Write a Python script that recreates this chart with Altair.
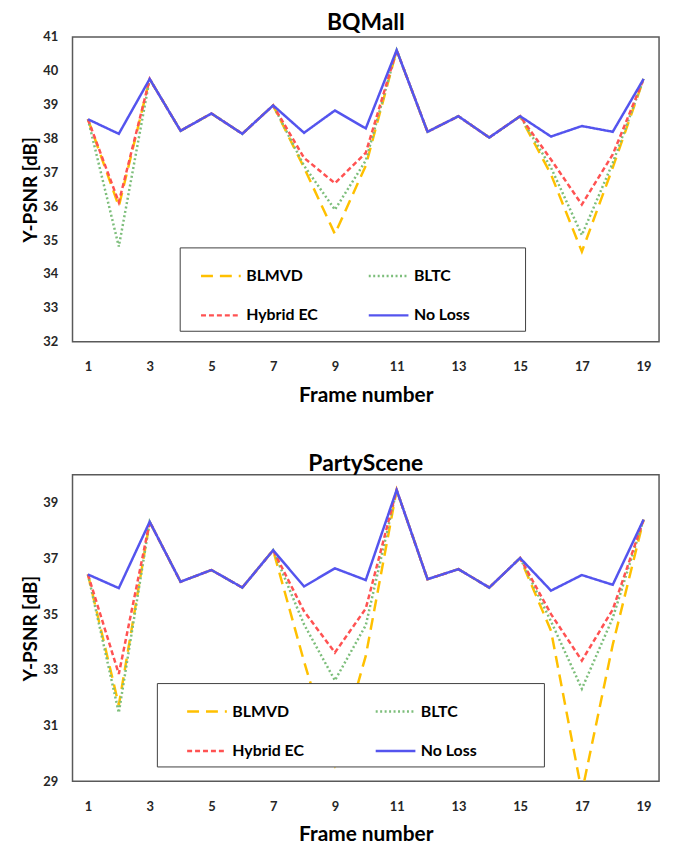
import altair as alt
import pandas as pd

FONT = "Lato"

frames = list(range(1, 20))
series_names = ["BLMVD", "BLTC", "Hybrid EC", "No Loss"]
series_colors = ["#FFC000", "#7DBE7B", "#FF5252", "#5454EE"]
series_dashes = [[12, 7], [2, 2.5], [5, 3], [1, 0]]
x_ticks = [1, 3, 5, 7, 9, 11, 13, 15, 17, 19]

# BQMall
bq_noloss = [38.57, 38.14, 39.76, 38.23, 38.74, 38.14, 38.98, 38.17, 38.83, 38.30,
             40.61, 38.20, 38.66, 38.03, 38.66, 38.06, 38.37, 38.20, 39.76]
bq_blmvd = [38.57, 36.00, 39.76, 38.23, 38.74, 38.14, 38.98, 37.14, 35.18, 37.20,
            40.61, 38.20, 38.66, 38.03, 38.66, 36.94, 34.66, 37.14, 39.76]
bq_bltc = [38.57, 34.81, 39.76, 38.23, 38.74, 38.14, 38.98, 37.20, 35.90, 37.35,
           40.61, 38.20, 38.66, 38.03, 38.66, 37.14, 35.15, 37.28, 39.76]
bq_hybrid = [38.57, 36.12, 39.76, 38.23, 38.74, 38.14, 38.98, 37.43, 36.68, 37.58,
             40.61, 38.20, 38.66, 38.03, 38.66, 37.38, 36.05, 37.53, 39.76]

# PartyScene
ps_noloss = [36.42, 35.93, 38.31, 36.16, 36.58, 35.95, 37.29, 35.99, 36.64, 36.22,
             39.45, 36.25, 36.61, 35.95, 37.01, 35.84, 36.40, 36.05, 38.39]
ps_blmvd = [36.42, 31.73, 38.31, 36.16, 36.58, 35.95, 37.29, 33.30, 29.60, 33.50,
            39.45, 36.25, 36.61, 35.95, 37.01, 34.40, 28.60, 33.90, 38.39]
ps_bltc = [36.42, 31.46, 38.31, 36.16, 36.58, 35.95, 37.29, 34.63, 32.62, 34.60,
           39.45, 36.25, 36.61, 35.95, 37.01, 34.74, 32.32, 34.86, 38.39]
ps_hybrid = [36.42, 32.85, 38.31, 36.16, 36.58, 35.95, 37.29, 35.10, 33.62, 35.20,
             39.45, 36.25, 36.61, 35.95, 37.01, 35.00, 33.33, 35.16, 38.39]


def long_df(blmvd, bltc, hybrid, noloss):
    rows = []
    for name, vals in zip(series_names, [blmvd, bltc, hybrid, noloss]):
        for f, v in zip(frames, vals):
            rows.append({"frame": f, "value": v, "series": name})
    return pd.DataFrame(rows)


def panel(df, title, title_offset, ydomain, yticks, height, lx, ly, sym_off, pad1, pad2):
    blank = "\u2800"
    expr = ("datum.label == 'Hybrid EC' ? datum.label + '" + blank * pad1 + "' : "
            "(datum.label == 'No Loss' ? datum.label + '" + blank * pad2 + "' : datum.label)")
    legend = alt.Legend(
        title=None, orient="none", legendX=lx, legendY=ly, columns=2, direction="horizontal",
        columnPadding=0, rowPadding=10, padding=7,
        fillColor="white", strokeColor="#404040",
        symbolType="stroke", symbolSize=1600, symbolStrokeWidth=2.5,
        symbolOffset=sym_off, labelOffset=4,
        labelFont=FONT, labelFontSize=16, labelFontWeight="bold", labelColor="#000000",
        labelExpr=expr, labelLimit=400,
    )
    return alt.Chart(df, title=alt.Title(title, font=FONT, fontSize=23, fontWeight="bold",
                                         color="#000000", anchor="middle",
                                         offset=title_offset)).mark_line(
        clip=True, strokeWidth=2.5
    ).encode(
        x=alt.X("frame:Q", scale=alt.Scale(domain=[0.5, 19.5], nice=False, zero=False),
                axis=alt.Axis(values=x_ticks, format="d", title="Frame number", grid=False,
                              domain=False, ticks=False, labelPadding=19, titlePadding=11,
                              titleFontSize=21)),
        y=alt.Y("value:Q", scale=alt.Scale(domain=ydomain, nice=False, zero=False),
                axis=alt.Axis(values=yticks, format="d", title="Y-PSNR [dB]", grid=False,
                              domain=False, ticks=False, labelPadding=15, titlePadding=2,
                              titleFontSize=19)),
        color=alt.Color("series:N", scale=alt.Scale(domain=series_names, range=series_colors),
                        legend=legend),
        strokeDash=alt.StrokeDash("series:N", scale=alt.Scale(domain=series_names, range=series_dashes),
                                  legend=legend),
    ).properties(width=591, height=height)


top = panel(long_df(bq_blmvd, bq_bltc, bq_hybrid, bq_noloss), "BQMall", -4,
            [32, 41], list(range(32, 42)), 307, 108, 212, 13, 3, 4)
bottom = panel(long_df(ps_blmvd, ps_bltc, ps_hybrid, ps_noloss), "PartyScene", -1,
               [29, 40], [29, 31, 33, 35, 37, 39], 309, 85, 210, 22, 4, 5)

chart = alt.vconcat(top, bottom, spacing=46).resolve_scale(
    color="independent", strokeDash="independent"
).properties(
    padding={"left": 13, "top": 0, "right": 5, "bottom": 5},
    background="white",
).configure_view(
    stroke="#595959", strokeWidth=1.5
).configure_axis(
    labelFont=FONT, labelFontSize=13, labelFontWeight="bold", labelColor="#262626",
    titleFont=FONT, titleFontWeight="bold", titleColor="#000000",
)

chart.save("out.html", embed_options={"renderer": "svg", "actions": False})
